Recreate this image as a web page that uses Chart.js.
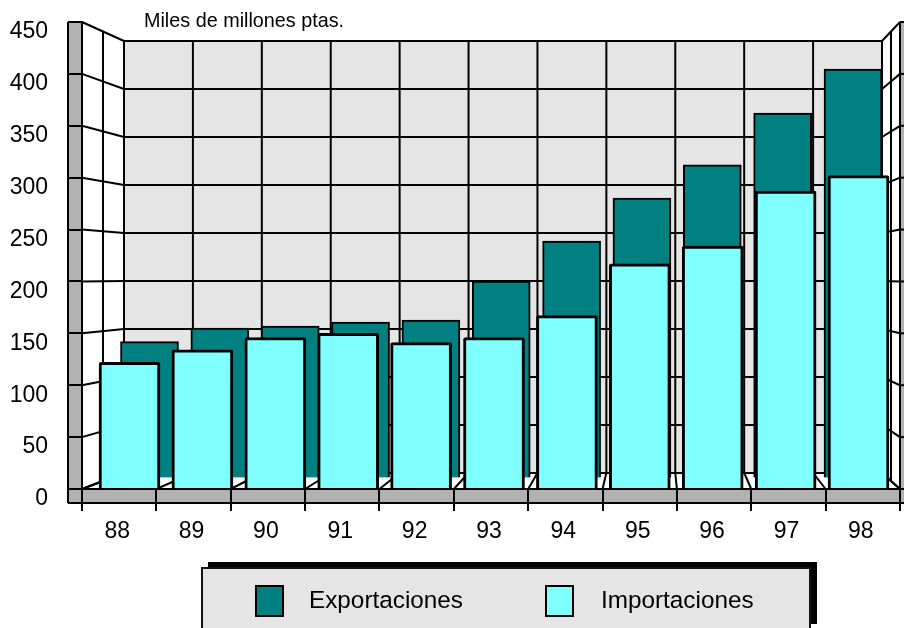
<!DOCTYPE html>
<html><head><meta charset="utf-8">
<style>html,body{margin:0;padding:0;background:#fff}canvas{display:block}</style>
<script src="https://cdn.jsdelivr.net/npm/chart.js@4"></script>
</head><body><canvas id="c" width="904" height="628"></canvas>
<script>
const categories = ['88','89','90','91','92','93','94','95','96','97','98'];
const exportaciones = [139,153,155,159,161,201,242,286,320,373,418];
const importaciones = [122,134,146,150,141,146,167,217,234,287,302];
const yTicks = [0,50,100,150,200,250,300,350,400,450];
const unitTitle = 'Miles de millones ptas.';
const FONT = '"Liberation Sans", Arial, sans-serif';

const walls = {
  id:'walls',
  beforeDraw(chart){
    const {ctx, chartArea:a, scales} = chart, y = scales.y, n = categories.length;
    const bl=124, br=882, bt=41, bb=473, W=chart.width;
    const backY = v => bt + (y.getPixelForValue(v)-a.top)*(bb-bt)/(a.bottom-a.top);
    const backX = i => bl + i*(br-bl)/n;
    const frontX = i => a.left + i*(a.right-a.left)/n;
    const line=(x1,y1,x2,y2)=>{ctx.beginPath();ctx.moveTo(x1,y1);ctx.lineTo(x2,y2);ctx.stroke();};
    ctx.save();
    ctx.fillStyle='#fff';ctx.fillRect(0,0,W,chart.height);
    ctx.fillStyle='#E5E5E5';ctx.fillRect(bl,bt,br-bl,bb-bt);
    ctx.fillStyle='#B2B2B2';
    ctx.fillRect(a.left-14,a.top,14,a.bottom-a.top+14);
    ctx.fillRect(a.left-14,a.bottom,W-a.left+14,14);
    ctx.fillRect(a.right,a.top,W-a.right,a.bottom-a.top);
    ctx.strokeStyle='#000';ctx.lineWidth=2;
    line(a.left-14,a.top,a.left-14,a.bottom+14);
    line(a.left-14,a.top,a.left,a.top);
    line(a.left-14,a.bottom+14,W,a.bottom+14);
    line(a.right,a.top,a.right,a.bottom+14);
    yTicks.forEach(v=>{
      line(bl,backY(v),br,backY(v));
      line(a.left,y.getPixelForValue(v),bl,backY(v));
      line(a.right,y.getPixelForValue(v),br,backY(v));
      line(a.right,y.getPixelForValue(v),W,y.getPixelForValue(v));
    });
    for(let i=0;i<=n;i++){
      line(backX(i),bt,backX(i),bb);
      line(frontX(i),a.bottom,backX(i),bb);
    }
    const mlx=(a.left+bl)/2, mrx=(a.right+br)/2, mty=(a.top+bt)/2, mby=(a.bottom+bb)/2;
    line(mlx,mty,mlx,mby);
    line(mrx,mty,mrx,mby);
    ctx.restore();
  },
  afterDraw(chart){
    const {ctx}=chart;
    ctx.save();
    ctx.fillStyle='#000';
    ctx.font='19.8px '+FONT;ctx.textBaseline='middle';ctx.textAlign='left';
    ctx.fillText(unitTitle,144,22);
    ctx.fillStyle='#000';ctx.fillRect(208,562,609,62);
    ctx.fillStyle='#E5E5E5';ctx.fillRect(202,568,608,62);
    ctx.strokeStyle='#111';ctx.lineWidth=2;ctx.strokeRect(202,568,608,62);
    const slots=[{bx:256,tx:309},{bx:546,tx:601}];
    chart.data.datasets.forEach((d,i)=>{
      const s=slots[i];
      ctx.fillStyle=d.backgroundColor;ctx.fillRect(s.bx,586,27,30);
      ctx.strokeStyle='#000';ctx.lineWidth=2;ctx.strokeRect(s.bx,586,27,30);
      ctx.fillStyle='#000';ctx.font='24.3px '+FONT;ctx.textBaseline='middle';
      ctx.fillText(d.label,s.tx,601);
    });
    ctx.restore();
  }
};

new Chart(document.getElementById('c'),{
  type:'bar',
  plugins:[walls],
  data:{datasets:[
    {label:'Exportaciones',data:exportaciones.map((v,i)=>({x:i,y:v})),xAxisID:'xBack',yAxisID:'yBack',
     backgroundColor:'#008080',borderColor:'#000',borderWidth:2,barThickness:58,grouped:false,order:2},
    {label:'Importaciones',data:importaciones.map((v,i)=>({x:i,y:v})),xAxisID:'xFront',yAxisID:'y',
     backgroundColor:'#80FFFF',borderColor:'#000',borderWidth:3,barThickness:61,borderRadius:2,grouped:false,order:1}
  ]},
  options:{
    responsive:false,animation:false,
    layout:{padding:{top:22,right:4,left:0,bottom:0}},
    plugins:{legend:{display:false},title:{display:false},tooltip:{enabled:false}},
    scales:{
      x:{type:'category',labels:categories,position:'bottom',offset:true,
        grid:{offset:true,drawOnChartArea:false,color:'#000',lineWidth:2,tickLength:22},
        border:{display:true,color:'#000',width:2},
        ticks:{color:'#000',font:{family:FONT,size:23},padding:7,labelOffset:-2,autoSkip:false,maxRotation:0},
        afterFit(s){s.height=139;s.paddingLeft=0;s.paddingRight=0;}},
      xFront:{type:'linear',display:false,offset:false,min:-0.6516,max:10.569},
      xBack:{type:'linear',display:false,offset:false,min:-0.9595,max:10.668},
      y:{min:0,max:450,position:'left',
        grid:{drawOnChartArea:false,color:'#000',lineWidth:2,tickLength:14},
        border:{display:true,color:'#000',width:2},
        ticks:{stepSize:50,color:'#000',font:{family:FONT,size:23},padding:20,labelOffset:10},
        afterFit(s){s.width=82;s.paddingTop=0;s.paddingBottom=0;}},
      yBack:{display:false,position:'left',min:-11.77,max:466.2}
    }
  }
});
</script></body></html>
